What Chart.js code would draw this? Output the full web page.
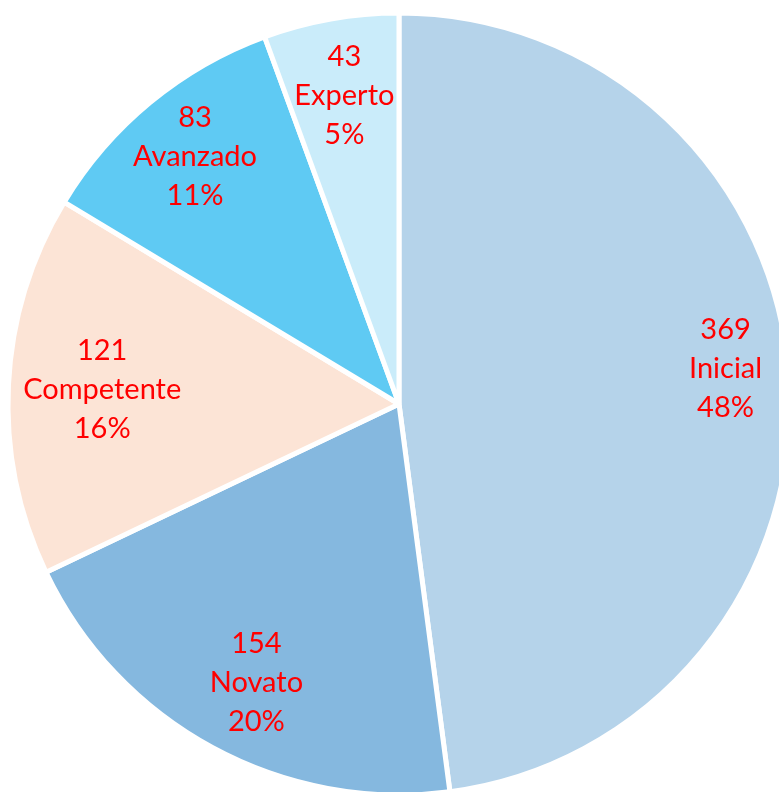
<!DOCTYPE html>
<html>
<head>
<meta charset="utf-8">
<script src="https://cdn.jsdelivr.net/npm/chart.js@4"></script>
<style>
  html, body { margin: 0; padding: 0; background: #fff; overflow: hidden; }
  #wrap { position: absolute; left: 0; top: 0; width: 798px; height: 808px; }
</style>
</head>
<body>
<div id="wrap"><canvas id="pie"></canvas></div>
<script>
// Data
const categories = ['Inicial', 'Novato', 'Competente', 'Avanzado', 'Experto'];
const counts = [369, 154, 121, 83, 43];
const percents = [48, 20, 16, 11, 5];
const sliceColors = ['#B5D3EA', '#85B8DF', '#FCE4D6', '#5FCAF3', '#CAECFA'];

// label placement: distance as fraction of radius, and angle nudge in degrees
const labelDist = [0.84, 0.80, 0.76, 0.82, 0.80];
const labelNudge = [-2.4, -1.4, 0, 0, 0];

const sliceLabels = {
  id: 'sliceLabels',
  afterDatasetsDraw(chart) {
    const ctx = chart.ctx;
    const meta = chart.getDatasetMeta(0);
    ctx.save();
    ctx.fillStyle = '#FF0000';
    ctx.font = '29px Lato, "Open Sans", sans-serif';
    ctx.textAlign = 'center';
    ctx.textBaseline = 'middle';
    meta.data.forEach((arc, i) => {
      const { x, y, startAngle, endAngle, outerRadius } = arc.getProps(['x', 'y', 'startAngle', 'endAngle', 'outerRadius'], true);
      const mid = (startAngle + endAngle) / 2 + labelNudge[i] * Math.PI / 180;
      const r = outerRadius * labelDist[i];
      const cx = x + Math.cos(mid) * r;
      const cy = y + Math.sin(mid) * r;
      const lines = [String(counts[i]), categories[i], percents[i] + '%'];
      const lh = 39;
      lines.forEach((t, k) => ctx.fillText(t, cx, cy + (k - 1) * lh));
    });
    ctx.restore();
  }
};

new Chart(document.getElementById('pie'), {
  type: 'pie',
  data: {
    labels: categories,
    datasets: [{
      data: counts,
      backgroundColor: sliceColors,
      borderColor: '#FFFFFF',
      borderWidth: 5
    }]
  },
  options: {
    responsive: true,
    maintainAspectRatio: false,
    animation: false,
    radius: 391,
    layout: { padding: 0 },
    plugins: {
      legend: { display: false },
      tooltip: { enabled: false }
    }
  },
  plugins: [sliceLabels]
});
</script>
</body>
</html>
